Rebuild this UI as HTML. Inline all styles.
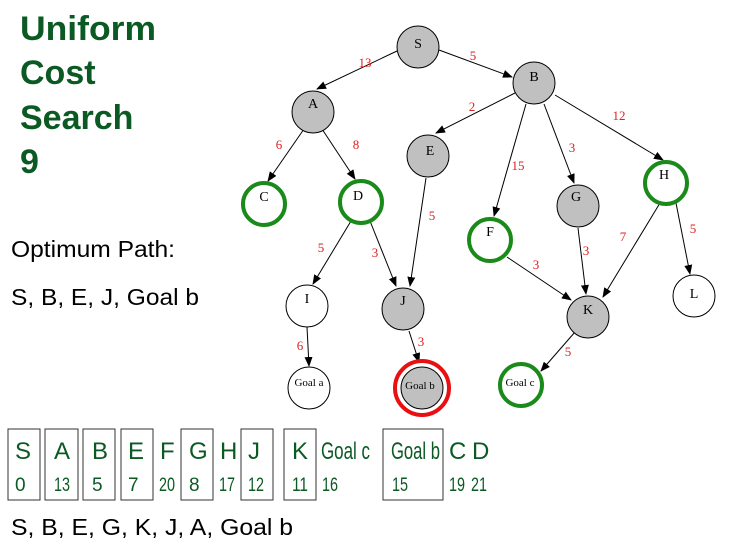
<!DOCTYPE html>
<html><head><style>
body{margin:0;background:#fff;width:742px;height:550px;overflow:hidden}
svg{display:block}
.g{fill:#0b5a23;font-family:"Liberation Sans",sans-serif}
.n{font-family:"Liberation Serif",serif;font-size:14px;fill:#000;text-anchor:middle}
.w{font-family:"Liberation Serif",serif;font-size:13px;fill:#e02020;text-anchor:middle}
.e{stroke:#000;stroke-width:1;fill:none;marker-end:url(#ar)}
</style></head><body>
<svg width="742" height="550" xmlns="http://www.w3.org/2000/svg">
<defs><marker id="ar" markerWidth="10" markerHeight="8" refX="9" refY="4" orient="auto" markerUnits="userSpaceOnUse"><path d="M0,0L10,4L0,8z" fill="#000"/></marker></defs>
<g class="g" font-weight="bold" font-size="34">
<text x="20" y="40" textLength="136" lengthAdjust="spacingAndGlyphs">Uniform</text><text x="20" y="84">Cost</text><text x="20" y="129">Search</text><text x="20" y="173">9</text></g>
<g font-family="Liberation Sans,sans-serif" font-size="23" fill="#000">
<text x="11" y="257" textLength="164" lengthAdjust="spacingAndGlyphs">Optimum Path:</text>
<text x="11" y="305" textLength="188" lengthAdjust="spacingAndGlyphs">S, B, E, J, Goal b</text>
<text x="11" y="535" textLength="282" lengthAdjust="spacingAndGlyphs">S, B, E, G, K, J, A, Goal b</text></g>
<g>
<line class="e" x1="397" y1="51" x2="317" y2="89"/>
<line class="e" x1="439" y1="50" x2="512" y2="77"/>
<line class="e" x1="304" y1="129" x2="268" y2="181"/>
<line class="e" x1="322" y1="129" x2="355" y2="179"/>
<line class="e" x1="515" y1="93" x2="436" y2="133"/>
<line class="e" x1="526" y1="104" x2="494" y2="216"/>
<line class="e" x1="544" y1="104" x2="574" y2="183"/>
<line class="e" x1="555" y1="95" x2="663" y2="160"/>
<line class="e" x1="426" y1="178" x2="410" y2="286"/>
<line class="e" x1="351" y1="221" x2="313" y2="284"/>
<line class="e" x1="370" y1="221" x2="396" y2="286"/>
<line class="e" x1="507" y1="257" x2="571" y2="300"/>
<line class="e" x1="578" y1="228" x2="586" y2="294"/>
<line class="e" x1="660" y1="203" x2="603" y2="297"/>
<line class="e" x1="676" y1="203" x2="690" y2="274"/>
<line class="e" x1="307" y1="327" x2="309" y2="366"/>
<line class="e" x1="409" y1="331" x2="419" y2="362"/>
<line class="e" x1="575" y1="332" x2="541" y2="371"/>
</g>
<g class="w">
<text x="365" y="67">13</text><text x="473" y="60">5</text>
<text x="279" y="149">6</text><text x="356" y="149">8</text>
<text x="472" y="111">2</text><text x="619" y="120">12</text>
<text x="518" y="170">15</text><text x="572" y="152">3</text>
<text x="432" y="220">5</text><text x="321" y="252">5</text><text x="375" y="257">3</text>
<text x="536" y="269">3</text><text x="586" y="255">3</text><text x="623" y="241">7</text><text x="693" y="233">5</text>
<text x="300" y="350">6</text><text x="421" y="346">3</text><text x="568" y="356">5</text>
</g>
<g stroke="#000" stroke-width="1">
<circle cx="418" cy="47" r="21" fill="#c0c0c0"/>
<circle cx="534" cy="83" r="21" fill="#c0c0c0"/>
<circle cx="313" cy="112" r="21" fill="#c0c0c0"/>
<circle cx="428" cy="156" r="21" fill="#c0c0c0"/>
<circle cx="578" cy="206" r="21" fill="#c0c0c0"/>
<circle cx="403" cy="309" r="21" fill="#c0c0c0"/>
<circle cx="588" cy="317" r="21" fill="#c0c0c0"/>
<circle cx="307" cy="306" r="21" fill="#fff"/>
<circle cx="694" cy="296" r="21" fill="#fff"/>
<circle cx="309" cy="388" r="21" fill="#fff"/>
<circle cx="422" cy="388" r="21" fill="#c0c0c0"/>
</g>
<g fill="none" stroke="#1a8a1a" stroke-width="4">
<circle cx="264" cy="204" r="21"/>
<circle cx="361" cy="202" r="21"/>
<circle cx="666" cy="183" r="21"/>
<circle cx="490" cy="240" r="21"/>
<circle cx="521" cy="385" r="21"/>
</g>
<circle cx="422" cy="388" r="27" fill="none" stroke="#e81010" stroke-width="4"/>
<g class="n">
<text x="418" y="48">S</text><text x="534" y="81">B</text><text x="313" y="108">A</text>
<text x="430" y="155">E</text><text x="264" y="201">C</text><text x="358" y="200">D</text>
<text x="576" y="201">G</text><text x="664" y="179">H</text><text x="490" y="236">F</text>
<text x="307" y="303">I</text><text x="403" y="305">J</text><text x="588" y="314">K</text>
<text x="694" y="298">L</text>
<text x="309" y="386" font-size="11">Goal a</text>
<text x="420" y="389" font-size="11">Goal b</text>
<text x="520" y="386" font-size="11">Goal c</text>
</g>
<g fill="none" stroke="#333" stroke-width="1">
<rect x="8" y="429" width="32" height="71"/><rect x="45" y="429" width="33" height="71"/>
<rect x="83" y="429" width="32" height="71"/><rect x="121" y="429" width="32" height="71"/>
<rect x="181" y="429" width="32" height="71"/><rect x="241" y="429" width="32" height="71"/>
<rect x="284" y="429" width="32" height="71"/><rect x="383" y="429" width="60" height="71"/>
</g>
<g class="g" font-size="24" lengthAdjust="spacingAndGlyphs">
<text x="15" y="459" textLength="14">S</text><text x="54" y="459" textLength="15">A</text><text x="92" y="459" textLength="14">B</text><text x="128" y="459" textLength="13">E</text>
<text x="160" y="459" textLength="12">F</text><text x="189" y="459" textLength="16">G</text><text x="220" y="459" textLength="15">H</text><text x="248" y="459" textLength="10">J</text>
<text x="292" y="459" textLength="15">K</text><text x="321" y="459" textLength="49" lengthAdjust="spacingAndGlyphs">Goal c</text><text x="391" y="459" textLength="49" lengthAdjust="spacingAndGlyphs">Goal b</text>
<text x="449" y="459">C</text><text x="472" y="459">D</text>
</g>
<g class="g" font-size="19">
<text x="15" y="491" textLength="9">0</text><text x="54" y="491" textLength="16" lengthAdjust="spacingAndGlyphs">13</text><text x="92" y="491">5</text><text x="128" y="491">7</text>
<text x="159" y="491" textLength="16" lengthAdjust="spacingAndGlyphs">20</text><text x="189" y="491">8</text><text x="219" y="491" textLength="16" lengthAdjust="spacingAndGlyphs">17</text><text x="248" y="491" textLength="16" lengthAdjust="spacingAndGlyphs">12</text>
<text x="292" y="491" textLength="16" lengthAdjust="spacingAndGlyphs">11</text><text x="322" y="491" textLength="16" lengthAdjust="spacingAndGlyphs">16</text><text x="392" y="491" textLength="16" lengthAdjust="spacingAndGlyphs">15</text>
<text x="449" y="491" textLength="16" lengthAdjust="spacingAndGlyphs">19</text><text x="471" y="491" textLength="16" lengthAdjust="spacingAndGlyphs">21</text>
</g>
</svg>
</body></html>
